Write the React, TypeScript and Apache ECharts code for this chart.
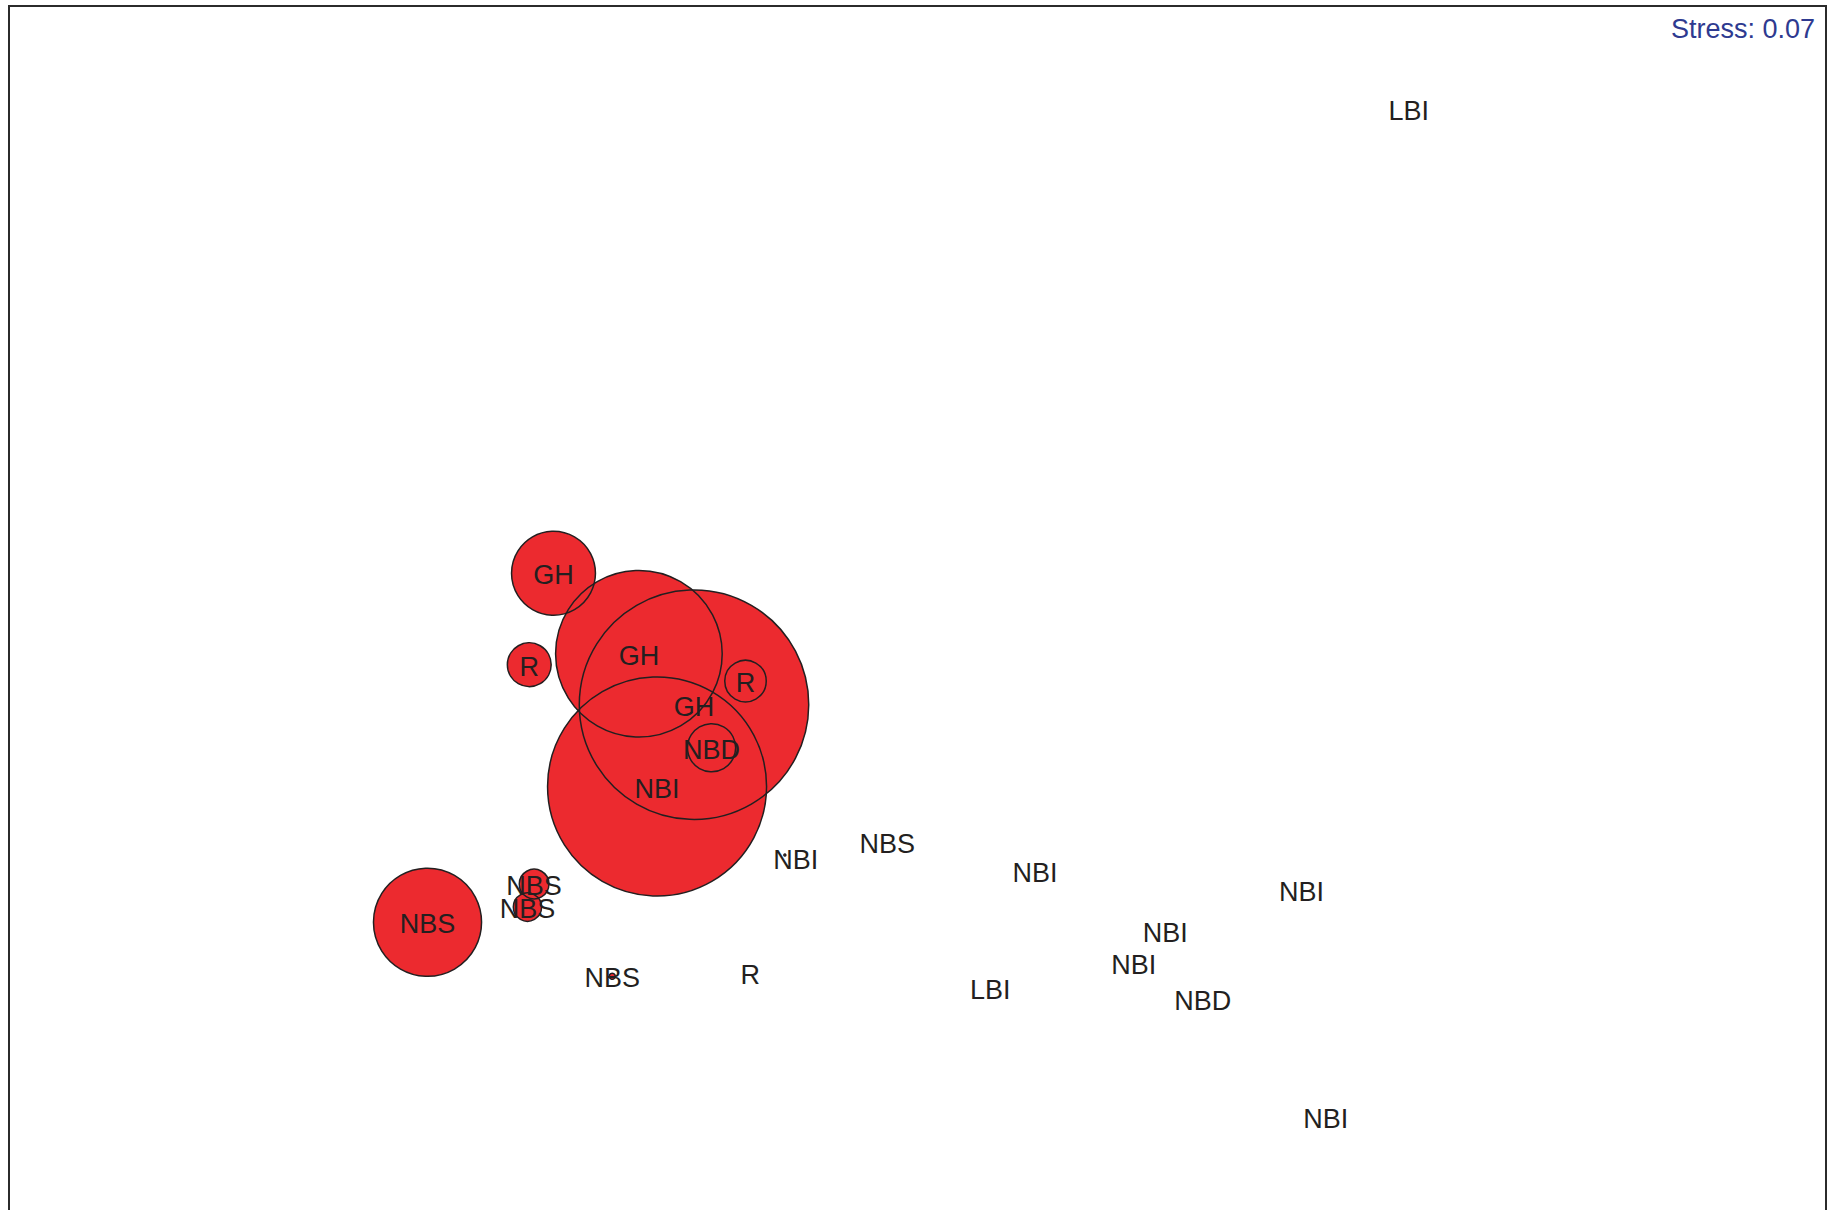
import React, { useEffect, useRef } from "react";
import * as echarts from "echarts";

// nMDS ordination of sites, bubbles scaled by abundance
const siteLabels = [
  "LBI", "GH", "GH", "GH", "R", "R", "NBD", "NBI", "NBS", "NBS", "NBS", "NBS",
  "R", "NBI", "NBS", "NBI", "NBI", "NBI", "NBI", "LBI", "NBD", "NBI",
];
const mds1 = [
  1.111, -0.301, -0.160, -0.069, -0.341, 0.016, -0.040, -0.130, -0.509, -0.333, -0.344, -0.204,
  0.024, 0.081, 0.250, 0.494, 0.934, 0.709, 0.657, 0.420, 0.771, 0.974,
];
const mds2 = [
  0.630, -0.136, -0.269, -0.353, -0.287, -0.314, -0.424, -0.488, -0.712, -0.649, -0.687, -0.801,
  -0.796, -0.601, -0.580, -0.628, -0.658, -0.727, -0.779, -0.820, -0.838, -1.033,
];
const abundance = [
  0, 17.6, 69.4, 131.6, 4.8, 4.3, 5.8, 119.9, 29.2, 2.2, 2.0, 0.09,
  0, 0.01, 0, 0, 0, 0, 0, 0, 0, 0,
];
const stressValue = 0.07;

const FILL = "#ec2a2f";
const INK = "#231f20";
const bubbleSize = (a: number) => 20 * Math.sqrt(a);

export default function App() {
  const ref = useRef<HTMLDivElement>(null);

  useEffect(() => {
    if (!ref.current) return;
    const chart = echarts.init(ref.current, null, { renderer: "svg" });

    const points = siteLabels.map((name, i) => ({
      name,
      value: [mds1[i], mds2[i], abundance[i]],
    }));

    const outlined = points.map((p, i) => ({
      ...p,
      itemStyle: { borderWidth: abundance[i] > 0 ? 1.5 : 0 },
      label: i === 13 ? { offset: [11, 5] } : undefined,
    }));

    chart.setOption({
      animation: false,
      backgroundColor: "#ffffff",
      grid: {
        show: false,
        left: 9,
        top: 6,
        right: 13,
        bottom: 0,
      },
      xAxis: { type: "value", min: -1.2, max: 1.8, show: false },
      yAxis: { type: "value", min: -1.1868, max: 0.8, show: false },
      graphic: [
        {
          // plot frame: its lower edge runs past the bottom of the page
          type: "polyline",
          shape: { points: [[9, 1240], [9, 6], [1826, 6], [1826, 1240]] },
          style: { stroke: "#2b2b2b", lineWidth: 2, fill: "none" },
          silent: true,
          z: 10,
        },
        {
          type: "text",
          right: 24,
          top: 15,
          style: {
            text: `Stress: ${stressValue.toFixed(2)}`,
            fill: "#2e3a90",
            font: '27px "Liberation Sans", Arial, sans-serif',
          },
        },
      ],
      series: [
        {
          type: "scatter",
          data: points.filter((p) => (p.value[2] as number) > 0),
          symbol: "circle",
          symbolSize: (v: number[]) => bubbleSize(v[2]),
          itemStyle: { color: FILL, opacity: 1 },
          silent: true,
          z: 2,
        },
        {
          type: "scatter",
          data: outlined,
          symbol: "circle",
          symbolSize: (v: number[]) => Math.max(bubbleSize(v[2]), 1),
          itemStyle: { color: "transparent", borderColor: INK, opacity: 1 },
          label: {
            show: true,
            position: "inside",
            formatter: (p: any) => p.name,
            color: INK,
            fontSize: 27,
            offset: [0, 2],
            fontFamily: '"Liberation Sans", Arial, sans-serif',
          },
          silent: true,
          z: 3,
        },
      ],
    });

    return () => chart.dispose();
  }, []);

  return (
    <div
      ref={ref}
      style={{ position: "absolute", left: 0, top: 0, width: 1839, height: 1210 }}
    />
  );
}
